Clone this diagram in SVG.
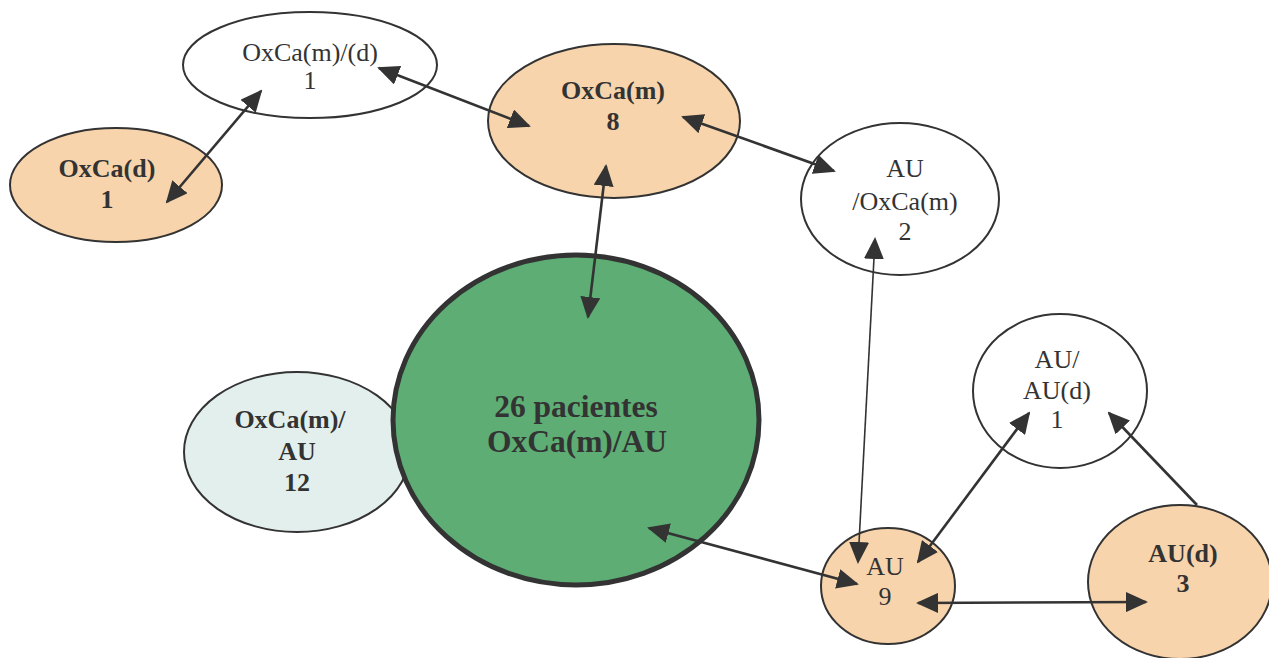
<svg xmlns="http://www.w3.org/2000/svg" width="1269" height="658" viewBox="0 0 1269 658">
<style>
.n{stroke:#333;stroke-width:2}
.o{fill:#f7d4ab}
.w{fill:#fff}
.t{font-family:"Liberation Serif","Times New Roman",serif;font-size:26px;fill:#333;text-anchor:middle}
.b{font-weight:bold}
.c{stroke:#333;stroke-width:2.6;fill:none}
</style>
<defs>
<marker id="ah" viewBox="0 0 22 20" refX="20" refY="10" markerWidth="22" markerHeight="20" markerUnits="userSpaceOnUse" orient="auto-start-reverse">
<path d="M0,0 L22,10 L0,20 z" fill="#333"/>
</marker>
</defs>
<rect width="1269" height="658" fill="#fff"/>
<g id="n-oxcamd">
<ellipse class="n w" cx="310" cy="65" rx="127" ry="53"/>
<text class="t" x="310" y="61">OxCa(m)/(d)</text>
<text class="t" x="310" y="89">1</text>
</g>
<g id="n-oxcad">
<ellipse class="n o" cx="116" cy="185" rx="106" ry="57"/>
<text class="t b" x="107" y="177">OxCa(d)</text>
<text class="t b" x="107" y="208">1</text>
</g>
<g id="n-oxcam">
<ellipse class="n o" cx="614" cy="121" rx="126" ry="77"/>
<text class="t b" x="613" y="99">OxCa(m)</text>
<text class="t b" x="613" y="130">8</text>
</g>
<g id="n-au-oxcam">
<ellipse class="n w" cx="900" cy="199" rx="99" ry="76"/>
<text class="t" x="905" y="177">AU</text>
<text class="t" x="905" y="210">/OxCa(m)</text>
<text class="t" x="905" y="240">2</text>
</g>
<g id="n-oxcam-au">
<ellipse class="n" fill="#e3efec" cx="297" cy="452" rx="113" ry="80"/>
<text class="t b" x="290" y="428">OxCa(m)/</text>
<text class="t b" x="297" y="460">AU</text>
<text class="t b" x="297" y="491">12</text>
</g>
<g id="n-total">
<ellipse fill="#5dad74" stroke="#333" stroke-width="5" cx="576" cy="420" rx="183" ry="165"/>
<text class="t b" style="font-size:31.5px" x="576" y="417">26 pacientes</text>
<text class="t b" style="font-size:31.5px" x="577" y="452">OxCa(m)/AU</text>
</g>
<g id="n-au-aud">
<ellipse class="n w" cx="1060" cy="391" rx="87" ry="77"/>
<text class="t" x="1057" y="368">AU/</text>
<text class="t" x="1057" y="399">AU(d)</text>
<text class="t" x="1057" y="428">1</text>
</g>
<g id="n-au">
<ellipse class="n o" cx="888" cy="586" rx="67" ry="58"/>
<text class="t" x="885" y="575">AU</text>
<text class="t" x="885" y="605">9</text>
</g>
<g id="n-aud">
<ellipse class="n o" cx="1180" cy="582" rx="92" ry="77"/>
<text class="t b" x="1183" y="562">AU(d)</text>
<text class="t b" x="1183" y="592">3</text>
</g>
<g id="connectors">
<line class="c" x1="167" y1="202" x2="261" y2="91" marker-start="url(#ah)" marker-end="url(#ah)"/>
<line class="c" x1="379" y1="68" x2="529" y2="126" marker-start="url(#ah)" marker-end="url(#ah)"/>
<line class="c" x1="683" y1="117" x2="834" y2="171" marker-start="url(#ah)" marker-end="url(#ah)"/>
<line class="c" x1="606" y1="166" x2="588" y2="317" marker-start="url(#ah)" marker-end="url(#ah)"/>
<line class="c" style="stroke-width:1.6" x1="875" y1="239" x2="858" y2="562" marker-start="url(#ah)" marker-end="url(#ah)"/>
<line class="c" x1="649" y1="528" x2="857" y2="584" marker-start="url(#ah)" marker-end="url(#ah)"/>
<line class="c" x1="918" y1="562" x2="1029" y2="413" marker-start="url(#ah)" marker-end="url(#ah)"/>
<line class="c" x1="1197" y1="505" x2="1109" y2="413" marker-end="url(#ah)"/>
<line class="c" x1="918" y1="603" x2="1146" y2="602" marker-start="url(#ah)" marker-end="url(#ah)"/>
</g>
</svg>
